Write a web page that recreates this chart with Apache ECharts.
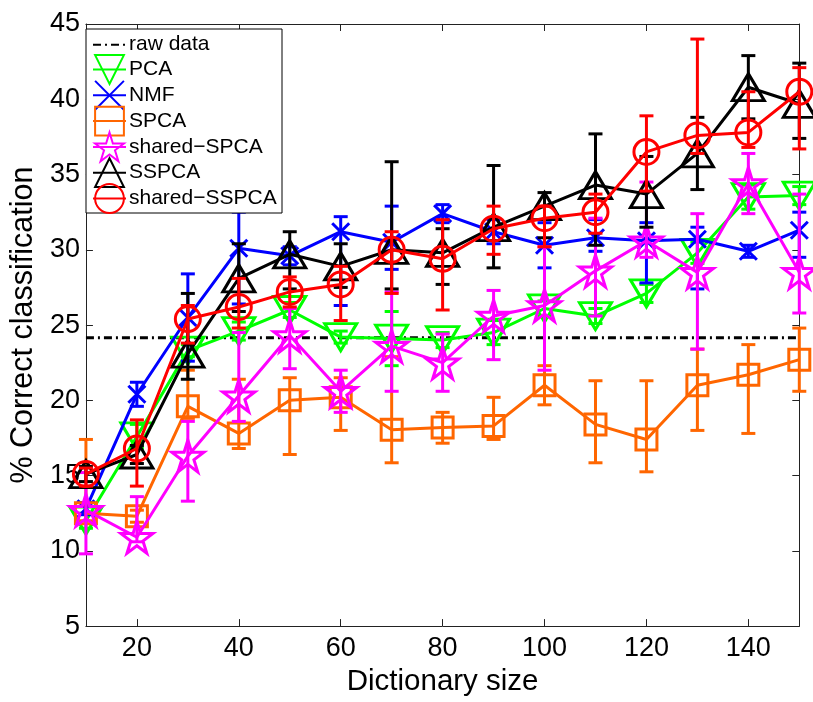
<!DOCTYPE html>
<html>
<head>
<meta charset="utf-8">
<script src="https://cdn.jsdelivr.net/npm/echarts@6/dist/echarts.min.js"></script>
<style>
html,body{margin:0;padding:0;background:#fff;}
#chart{width:813px;height:702px;}
</style>
</head>
<body>
<div id="chart"></div>
<script>
// ---- data ----
var dictSizes = [10, 20, 30, 40, 50, 60, 70, 80, 90, 100, 110, 120, 130, 140, 150];
var xTickLabels = [20, 40, 60, 80, 100, 120, 140];
var rawData = [24.15, 24.15, 24.15, 24.15, 24.15, 24.15, 24.15, 24.15, 24.15, 24.15, 24.15, 24.15, 24.15, 24.15, 24.15];

var pcaVals = [12.0, 17.6, 23.3, 24.6, 26.0, 24.2, 24.1, 24.0, 24.5, 26.1, 25.6, 27.1, 29.8, 33.5, 33.6];
var pcaHi   = [0.5, 0.8, 0.4, 0.6, 0.5, 0.4, 1.8, 0.5, 0.8, 0.5, 0.5, 0.6, 0.7, 0.8, 0.6];
var pcaLo   = [0.5, 0.8, 0.4, 0.6, 0.5, 0.4, 1.8, 0.5, 0.8, 0.5, 0.5, 0.6, 0.7, 0.8, 0.6];

var nmfVals = [12.8, 20.4, 25.5, 30.1, 29.6, 31.2, 30.5, 32.4, 31.2, 30.3, 30.8, 30.6, 30.7, 29.9, 31.3];
var nmfHi   = [0.4, 0.8, 2.9, 2.4, 0.6, 1.0, 2.4, 0.6, 0.8, 1.5, 1.2, 1.2, 0.8, 0.4, 1.2];
var nmfLo   = [0.4, 0.8, 2.9, 3.7, 0.6, 4.9, 1.8, 0.6, 0.8, 1.5, 0.9, 2.8, 3.3, 0.4, 1.8];

var spcaVals = [12.5, 12.3, 19.6, 17.8, 20.0, 20.2, 18.05, 18.2, 18.3, 21.0, 18.4, 17.4, 21.0, 21.7, 22.7];
var spcaHi   = [4.9, 0.4, 2.4, 3.6, 1.5, 1.3, 4.85, 1.0, 1.9, 1.3, 2.9, 3.9, 2.4, 2.0, 2.1];
var spcaLo   = [0.5, 0.4, 0.8, 1.0, 3.6, 2.2, 2.2, 1.05, 0.9, 1.3, 2.55, 2.15, 3.0, 3.9, 2.1];

var sharedSpcaVals = [12.7, 10.9, 16.3, 20.3, 24.3, 20.6, 23.6, 22.5, 25.6, 26.3, 28.6, 30.6, 28.5, 34.4, 28.5];
var sharedSpcaHi   = [2.5, 2.7, 2.3, 4.2, 1.8, 1.4, 3.6, 1.9, 1.7, 3.9, 3.5, 3.9, 3.9, 2.0, 5.2];
var sharedSpcaLo   = [2.9, 0.3, 3.0, 1.7, 2.2, 1.4, 3.0, 1.9, 2.9, 4.3, 3.0, 1.1, 5.1, 2.0, 2.7];

var sspcaVals = [15.1, 16.4, 23.1, 28.1, 29.7, 28.9, 30.0, 29.8, 31.5, 32.9, 34.3, 33.7, 36.4, 40.8, 39.7];
var sspcaHi   = [0.5, 0.6, 4.0, 2.3, 1.5, 1.5, 5.85, 1.6, 4.1, 0.9, 3.4, 2.5, 2.4, 2.1, 2.7];
var sspcaLo   = [0.5, 0.6, 1.7, 2.2, 2.3, 1.4, 2.6, 2.1, 2.7, 2.1, 4.0, 2.2, 2.4, 2.1, 2.3];

var sharedSspcaVals = [15.1, 16.8, 25.4, 26.2, 27.2, 27.7, 30.0, 29.4, 31.4, 32.1, 32.5, 36.5, 37.6, 37.8, 40.5];
var sharedSspcaHi   = [0.4, 1.9, 0.9, 1.9, 1.0, 1.2, 1.2, 2.6, 1.5, 0.8, 1.2, 2.4, 6.4, 2.7, 1.6];
var sharedSspcaLo   = [0.8, 2.5, 1.6, 1.4, 1.0, 2.4, 2.9, 3.4, 1.7, 1.9, 1.4, 2.6, 1.2, 1.0, 3.8];

// ---- styling ----
var FONT = 'Liberation Sans, Arial, Helvetica, sans-serif';
var starPath = 'path://M50,0 L61.17,34.63 L97.55,34.55 L68.07,55.87 L79.39,90.45 L50,69 L20.61,90.45 L31.93,55.87 L2.45,34.55 L38.83,34.63 Z';
var xPath = 'path://M0,0 L10,10 M10,0 L0,10';

var defs = [
  {name: 'PCA', vals: pcaVals, hi: pcaHi, lo: pcaLo, color: '#00ff00', symbol: 'triangle', size: [32, 27], rotate: 180},
  {name: 'NMF', vals: nmfVals, hi: nmfHi, lo: nmfLo, color: '#0000ff', symbol: xPath, size: 17, rotate: 0},
  {name: 'SPCA', vals: spcaVals, hi: spcaHi, lo: spcaLo, color: '#ff6600', symbol: 'rect', size: 21, rotate: 0},
  {name: 'shared\u2212SPCA', vals: sharedSpcaVals, hi: sharedSpcaHi, lo: sharedSpcaLo, color: '#ff00ff', symbol: starPath, size: 32, rotate: 0},
  {name: 'SSPCA', vals: sspcaVals, hi: sspcaHi, lo: sspcaLo, color: '#000000', symbol: 'triangle', size: [32, 27], rotate: 0},
  {name: 'shared\u2212SSPCA', vals: sharedSspcaVals, hi: sharedSspcaHi, lo: sharedSspcaLo, color: '#ff0000', symbol: 'circle', size: 25, rotate: 0}
];

function errRender(color) {
  return function (params, api) {
    var x = api.value(0);
    var p1 = api.coord([x, api.value(1)]);
    var p2 = api.coord([x, api.value(2)]);
    var hw = 7;
    var st = {stroke: color, lineWidth: 3, fill: null};
    return {
      type: 'group',
      children: [
        {type: 'line', shape: {x1: p1[0], y1: p1[1], x2: p2[0], y2: p2[1]}, style: st},
        {type: 'line', shape: {x1: p1[0] - hw, y1: p1[1], x2: p1[0] + hw, y2: p1[1]}, style: st},
        {type: 'line', shape: {x1: p2[0] - hw, y1: p2[1], x2: p2[0] + hw, y2: p2[1]}, style: st}
      ]
    };
  };
}

var series = [];
var zc = 2;
series.push({
  name: 'raw data',
  type: 'line',
  data: dictSizes.map(function (x, i) { return [x, rawData[i]]; }),
  symbol: 'none',
  itemStyle: {color: 'rgba(0,0,0,0)', borderWidth: 0},
  lineStyle: {color: '#000', width: 3, type: [8, 4, 2, 4]},
  z: zc++,
  silent: true
});
defs.forEach(function (d) {
  series.push({
    type: 'custom',
    name: d.name + ' err',
    data: dictSizes.map(function (x, i) { return [x, d.vals[i] - d.lo[i], d.vals[i] + d.hi[i]]; }),
    encode: {x: 0, y: [1, 2]},
    renderItem: errRender(d.color),
    z: zc++,
    silent: true
  });
  series.push({
    name: d.name,
    type: 'line',
    data: dictSizes.map(function (x, i) { return [x, d.vals[i]]; }),
    symbol: d.symbol,
    symbolSize: d.size,
    symbolRotate: d.rotate,
    showAllSymbol: true,
    itemStyle: {color: 'rgba(0,0,0,0)', borderColor: d.color, borderWidth: 3},
    lineStyle: {color: d.color, width: 3},
    z: zc++,
    silent: true
  });
});

var axisLineStyle = {color: '#222', width: 1};

var option = {
  animation: false,
  backgroundColor: '#fff',
  grid: {left: 81.5, right: 13.7, top: 24, bottom: 61.3, containLabel: false},
  xAxis: [{
    type: 'value', min: 10, max: 150, position: 'bottom',
    name: 'Dictionary size', nameLocation: 'middle', nameGap: 34,
    nameTextStyle: {fontFamily: FONT, fontSize: 29.5, color: '#000'},
    axisLine: {show: true, lineStyle: axisLineStyle},
    axisTick: {show: true, inside: true, length: 7, customValues: xTickLabels, lineStyle: axisLineStyle},
    axisLabel: {show: true, customValues: xTickLabels, fontFamily: FONT, fontSize: 27, color: '#000', margin: 9},
    splitLine: {show: false}
  }, {
    type: 'value', min: 10, max: 150, position: 'top',
    axisLine: {show: true, lineStyle: axisLineStyle},
    axisTick: {show: true, inside: true, length: 7, customValues: xTickLabels, lineStyle: axisLineStyle},
    axisLabel: {show: false},
    splitLine: {show: false}
  }],
  yAxis: [{
    type: 'value', min: 5, max: 45, interval: 5, position: 'left',
    name: '% Correct classification', nameLocation: 'middle', nameGap: 38,
    nameTextStyle: {fontFamily: FONT, fontSize: 30.5, color: '#000'},
    axisLine: {show: true, lineStyle: axisLineStyle},
    axisTick: {show: true, inside: true, length: 7, lineStyle: axisLineStyle},
    axisLabel: {fontFamily: FONT, fontSize: 27, color: '#000', margin: 6},
    splitLine: {show: false}
  }, {
    type: 'value', min: 5, max: 45, interval: 5, position: 'right',
    axisLine: {show: true, lineStyle: axisLineStyle},
    axisTick: {show: true, inside: true, length: 7, lineStyle: axisLineStyle},
    axisLabel: {show: false},
    splitLine: {show: false}
  }],
  graphic: [{
    type: 'rect', z: 50, silent: true,
    shape: {x: 86, y: 29, width: 196, height: 184},
    style: {fill: '#fff', stroke: '#000', lineWidth: 1}
  }],
  legend: {
    z: 60,
    orient: 'vertical',
    left: 92, top: 30.3,
    padding: 0,
    itemWidth: 33, itemHeight: 36, itemGap: -5,
    selectedMode: false,
    data: ['raw data', 'PCA', 'NMF', 'SPCA', 'shared\u2212SPCA', 'SSPCA', 'shared\u2212SSPCA'],
    textStyle: {fontFamily: FONT, fontSize: 21, color: '#000', padding: [0, 0, 0, -2]}
  },
  series: series
};

var chart = echarts.init(document.getElementById('chart'), null, {renderer: 'canvas'});
chart.setOption(option);
</script>
</body>
</html>
